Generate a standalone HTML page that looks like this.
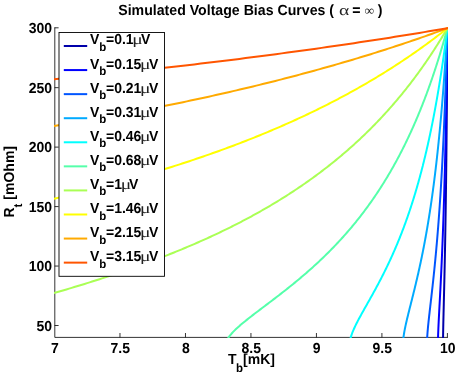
<!DOCTYPE html>
<html><head><meta charset="utf-8"><title>Simulated Voltage Bias Curves</title>
<style>
html,body{margin:0;padding:0;background:#fff;}
body{width:457px;height:375px;overflow:hidden;font-family:"Liberation Sans",sans-serif;}
svg{display:block;}
text{font-family:"Liberation Sans",sans-serif;font-weight:bold;fill:#000;text-rendering:geometricPrecision;}
.sym{font-family:"Liberation Serif",serif;font-weight:normal;fill:#222;}
.txt{filter:grayscale(1);}
</style></head><body>
<svg width="457" height="375" viewBox="0 0 457 375">
<rect width="457" height="375" fill="#fff"/>
<defs><clipPath id="c"><rect x="54" y="26" width="394" height="311.9"/></clipPath></defs>

<g stroke="#000" stroke-width="0.8" fill="none">
<path d="M54.8,27.4 V337.4 H447.9"/>
<path d="M119.98,337.4 v-4.4"/>
<path d="M185.47,337.4 v-4.4"/>
<path d="M250.95,337.4 v-4.4"/>
<path d="M316.43,337.4 v-4.4"/>
<path d="M381.92,337.4 v-4.4"/>
<path d="M447.40,337.4 v-4.4"/>
<path d="M54.6,325.51 h4"/>
<path d="M54.6,266.05 h4"/>
<path d="M54.6,206.58 h4"/>
<path d="M54.6,147.12 h4"/>
<path d="M54.6,87.66 h4"/>
<path d="M54.6,27.80 h4"/>
</g>
<g clip-path="url(#c)" fill="none" stroke-width="2.0" stroke-linejoin="round">
<path d="M443.03,342.16 L443.03,341.37 L443.04,340.58 L443.05,339.80 L443.05,339.01 L443.06,338.22 L443.07,337.44 L443.08,336.65 L443.09,335.86 L443.10,335.08 L443.12,334.29 L443.13,333.50 L443.14,332.71 L443.15,331.93 L443.17,331.14 L443.18,330.35 L443.20,329.57 L443.21,328.78 L443.23,327.99 L443.24,327.21 L443.26,326.42 L443.28,325.63 L443.29,324.85 L443.31,324.06 L443.33,323.27 L443.34,322.49 L443.36,321.70 L443.38,320.91 L443.40,320.12 L443.41,319.34 L443.43,318.55 L443.45,317.76 L443.47,316.98 L443.49,316.19 L443.51,315.40 L443.53,314.62 L443.54,313.83 L443.56,313.04 L443.58,312.26 L443.60,311.47 L443.62,310.68 L443.64,309.90 L443.66,309.11 L443.68,308.32 L443.70,307.54 L443.72,306.75 L443.74,305.96 L443.76,305.17 L443.78,304.39 L443.79,303.60 L443.81,302.81 L443.83,302.03 L443.85,301.24 L443.87,300.45 L443.89,299.67 L443.91,298.88 L443.93,298.09 L443.95,297.31 L443.97,296.52 L443.99,295.73 L444.01,294.95 L444.03,294.16 L444.05,293.37 L444.06,292.58 L444.08,291.80 L444.10,291.01 L444.12,290.22 L444.14,289.44 L444.16,288.65 L444.18,287.86 L444.20,287.08 L444.22,286.29 L444.23,285.50 L444.25,284.72 L444.27,283.93 L444.29,283.14 L444.31,282.36 L444.33,281.57 L444.34,280.78 L444.36,280.00 L444.38,279.21 L444.40,278.42 L444.42,277.63 L444.43,276.85 L444.45,276.06 L444.47,275.27 L444.49,274.49 L444.50,273.70 L444.52,272.91 L444.54,272.13 L444.56,271.34 L444.57,270.55 L444.59,269.77 L444.61,268.98 L444.62,268.19 L444.64,267.41 L444.66,266.62 L444.68,265.83 L444.69,265.04 L444.71,264.26 L444.73,263.47 L444.74,262.68 L444.76,261.90 L444.77,261.11 L444.79,260.32 L444.81,259.54 L444.82,258.75 L444.84,257.96 L444.86,257.18 L444.87,256.39 L444.89,255.60 L444.90,254.82 L444.92,254.03 L444.93,253.24 L444.95,252.45 L444.96,251.67 L444.98,250.88 L445.00,250.09 L445.01,249.31 L445.03,248.52 L445.04,247.73 L445.06,246.95 L445.07,246.16 L445.09,245.37 L445.10,244.59 L445.12,243.80 L445.13,243.01 L445.14,242.23 L445.16,241.44 L445.17,240.65 L445.19,239.87 L445.20,239.08 L445.22,238.29 L445.23,237.50 L445.24,236.72 L445.26,235.93 L445.27,235.14 L445.29,234.36 L445.30,233.57 L445.31,232.78 L445.33,232.00 L445.34,231.21 L445.35,230.42 L445.37,229.64 L445.38,228.85 L445.39,228.06 L445.41,227.28 L445.42,226.49 L445.43,225.70 L445.45,224.91 L445.46,224.13 L445.47,223.34 L445.49,222.55 L445.50,221.77 L445.51,220.98 L445.52,220.19 L445.54,219.41 L445.55,218.62 L445.56,217.83 L445.57,217.05 L445.59,216.26 L445.60,215.47 L445.61,214.69 L445.62,213.90 L445.64,213.11 L445.65,212.33 L445.66,211.54 L445.67,210.75 L445.68,209.96 L445.70,209.18 L445.71,208.39 L445.72,207.60 L445.73,206.82 L445.74,206.03 L445.75,205.24 L445.76,204.46 L445.78,203.67 L445.79,202.88 L445.80,202.10 L445.81,201.31 L445.82,200.52 L445.83,199.74 L445.84,198.95 L445.85,198.16 L445.87,197.37 L445.88,196.59 L445.89,195.80 L445.90,195.01 L445.91,194.23 L445.92,193.44 L445.93,192.65 L445.94,191.87 L445.95,191.08 L445.96,190.29 L445.97,189.51 L445.98,188.72 L445.99,187.93 L446.00,187.15 L446.01,186.36 L446.02,185.57 L446.03,184.79 L446.05,184.00 L446.06,183.21 L446.07,182.42 L446.08,181.64 L446.09,180.85 L446.10,180.06 L446.10,179.28 L446.11,178.49 L446.12,177.70 L446.13,176.92 L446.14,176.13 L446.15,175.34 L446.16,174.56 L446.17,173.77 L446.18,172.98 L446.19,172.20 L446.20,171.41 L446.21,170.62 L446.22,169.83 L446.23,169.05 L446.24,168.26 L446.25,167.47 L446.26,166.69 L446.27,165.90 L446.27,165.11 L446.28,164.33 L446.29,163.54 L446.30,162.75 L446.31,161.97 L446.32,161.18 L446.33,160.39 L446.34,159.61 L446.35,158.82 L446.35,158.03 L446.36,157.24 L446.37,156.46 L446.38,155.67 L446.39,154.88 L446.40,154.10 L446.41,153.31 L446.41,152.52 L446.42,151.74 L446.43,150.95 L446.44,150.16 L446.45,149.38 L446.46,148.59 L446.46,147.80 L446.47,147.02 L446.48,146.23 L446.49,145.44 L446.50,144.66 L446.51,143.87 L446.51,143.08 L446.52,142.29 L446.53,141.51 L446.54,140.72 L446.55,139.93 L446.55,139.15 L446.56,138.36 L446.57,137.57 L446.58,136.79 L446.58,136.00 L446.59,135.21 L446.60,134.43 L446.61,133.64 L446.61,132.85 L446.62,132.07 L446.63,131.28 L446.64,130.49 L446.64,129.70 L446.65,128.92 L446.66,128.13 L446.67,127.34 L446.67,126.56 L446.68,125.77 L446.69,124.98 L446.70,124.20 L446.70,123.41 L446.71,122.62 L446.72,121.84 L446.73,121.05 L446.73,120.26 L446.74,119.48 L446.75,118.69 L446.75,117.90 L446.76,117.12 L446.77,116.33 L446.77,115.54 L446.78,114.75 L446.79,113.97 L446.79,113.18 L446.80,112.39 L446.81,111.61 L446.82,110.82 L446.82,110.03 L446.83,109.25 L446.84,108.46 L446.84,107.67 L446.85,106.89 L446.86,106.10 L446.86,105.31 L446.87,104.53 L446.87,103.74 L446.88,102.95 L446.89,102.16 L446.89,101.38 L446.90,100.59 L446.91,99.80 L446.91,99.02 L446.92,98.23 L446.93,97.44 L446.93,96.66 L446.94,95.87 L446.95,95.08 L446.95,94.30 L446.96,93.51 L446.96,92.72 L446.97,91.94 L446.98,91.15 L446.98,90.36 L446.99,89.58 L446.99,88.79 L447.00,88.00 L447.01,87.21 L447.01,86.43 L447.02,85.64 L447.02,84.85 L447.03,84.07 L447.04,83.28 L447.04,82.49 L447.05,81.71 L447.05,80.92 L447.06,80.13 L447.07,79.35 L447.07,78.56 L447.08,77.77 L447.08,76.99 L447.09,76.20 L447.09,75.41 L447.10,74.62 L447.11,73.84 L447.11,73.05 L447.12,72.26 L447.12,71.48 L447.13,70.69 L447.13,69.90 L447.14,69.12 L447.14,68.33 L447.15,67.54 L447.15,66.76 L447.16,65.97 L447.17,65.18 L447.17,64.40 L447.18,63.61 L447.18,62.82 L447.19,62.03 L447.19,61.25 L447.20,60.46 L447.20,59.67 L447.21,58.89 L447.21,58.10 L447.22,57.31 L447.22,56.53 L447.23,55.74 L447.23,54.95 L447.24,54.17 L447.24,53.38 L447.25,52.59 L447.26,51.81 L447.26,51.02 L447.27,50.23 L447.27,49.45 L447.28,48.66 L447.28,47.87 L447.29,47.08 L447.29,46.30 L447.30,45.51 L447.30,44.72 L447.31,43.94 L447.31,43.15 L447.31,42.36 L447.32,41.58 L447.32,40.79 L447.33,40.00 L447.33,39.22 L447.34,38.43 L447.34,37.64 L447.35,36.86 L447.35,36.07 L447.36,35.28 L447.36,34.49 L447.37,33.71 L447.37,32.92 L447.38,32.13 L447.38,31.35 L447.39,30.56 L447.39,29.77 L447.40,28.99 L447.40,28.20" stroke="#0000aa"/>
<path d="M437.97,342.16 L437.98,341.37 L437.99,340.58 L438.00,339.80 L438.02,339.01 L438.04,338.22 L438.06,337.44 L438.08,336.65 L438.10,335.86 L438.13,335.08 L438.15,334.29 L438.18,333.50 L438.21,332.71 L438.24,331.93 L438.27,331.14 L438.30,330.35 L438.33,329.57 L438.36,328.78 L438.39,327.99 L438.43,327.21 L438.46,326.42 L438.50,325.63 L438.53,324.85 L438.57,324.06 L438.61,323.27 L438.64,322.49 L438.68,321.70 L438.72,320.91 L438.76,320.12 L438.80,319.34 L438.84,318.55 L438.88,317.76 L438.92,316.98 L438.96,316.19 L439.00,315.40 L439.04,314.62 L439.08,313.83 L439.12,313.04 L439.16,312.26 L439.20,311.47 L439.24,310.68 L439.29,309.90 L439.33,309.11 L439.37,308.32 L439.41,307.54 L439.45,306.75 L439.49,305.96 L439.54,305.17 L439.58,304.39 L439.62,303.60 L439.66,302.81 L439.70,302.03 L439.75,301.24 L439.79,300.45 L439.83,299.67 L439.87,298.88 L439.91,298.09 L439.96,297.31 L440.00,296.52 L440.04,295.73 L440.08,294.95 L440.12,294.16 L440.16,293.37 L440.20,292.58 L440.24,291.80 L440.29,291.01 L440.33,290.22 L440.37,289.44 L440.41,288.65 L440.45,287.86 L440.49,287.08 L440.53,286.29 L440.57,285.50 L440.61,284.72 L440.65,283.93 L440.69,283.14 L440.73,282.36 L440.77,281.57 L440.81,280.78 L440.85,280.00 L440.88,279.21 L440.92,278.42 L440.96,277.63 L441.00,276.85 L441.04,276.06 L441.08,275.27 L441.12,274.49 L441.15,273.70 L441.19,272.91 L441.23,272.13 L441.27,271.34 L441.30,270.55 L441.34,269.77 L441.38,268.98 L441.41,268.19 L441.45,267.41 L441.49,266.62 L441.52,265.83 L441.56,265.04 L441.60,264.26 L441.63,263.47 L441.67,262.68 L441.70,261.90 L441.74,261.11 L441.77,260.32 L441.81,259.54 L441.84,258.75 L441.88,257.96 L441.91,257.18 L441.95,256.39 L441.98,255.60 L442.01,254.82 L442.05,254.03 L442.08,253.24 L442.11,252.45 L442.15,251.67 L442.18,250.88 L442.21,250.09 L442.25,249.31 L442.28,248.52 L442.31,247.73 L442.34,246.95 L442.38,246.16 L442.41,245.37 L442.44,244.59 L442.47,243.80 L442.50,243.01 L442.54,242.23 L442.57,241.44 L442.60,240.65 L442.63,239.87 L442.66,239.08 L442.69,238.29 L442.72,237.50 L442.75,236.72 L442.78,235.93 L442.81,235.14 L442.84,234.36 L442.87,233.57 L442.90,232.78 L442.93,232.00 L442.96,231.21 L442.99,230.42 L443.02,229.64 L443.05,228.85 L443.08,228.06 L443.10,227.28 L443.13,226.49 L443.16,225.70 L443.19,224.91 L443.22,224.13 L443.25,223.34 L443.27,222.55 L443.30,221.77 L443.33,220.98 L443.36,220.19 L443.38,219.41 L443.41,218.62 L443.44,217.83 L443.46,217.05 L443.49,216.26 L443.52,215.47 L443.54,214.69 L443.57,213.90 L443.60,213.11 L443.62,212.33 L443.65,211.54 L443.67,210.75 L443.70,209.96 L443.72,209.18 L443.75,208.39 L443.77,207.60 L443.80,206.82 L443.83,206.03 L443.85,205.24 L443.87,204.46 L443.90,203.67 L443.92,202.88 L443.95,202.10 L443.97,201.31 L444.00,200.52 L444.02,199.74 L444.05,198.95 L444.07,198.16 L444.09,197.37 L444.12,196.59 L444.14,195.80 L444.16,195.01 L444.19,194.23 L444.21,193.44 L444.23,192.65 L444.26,191.87 L444.28,191.08 L444.30,190.29 L444.32,189.51 L444.35,188.72 L444.37,187.93 L444.39,187.15 L444.41,186.36 L444.44,185.57 L444.46,184.79 L444.48,184.00 L444.50,183.21 L444.52,182.42 L444.54,181.64 L444.57,180.85 L444.59,180.06 L444.61,179.28 L444.63,178.49 L444.65,177.70 L444.67,176.92 L444.69,176.13 L444.71,175.34 L444.73,174.56 L444.75,173.77 L444.78,172.98 L444.80,172.20 L444.82,171.41 L444.84,170.62 L444.86,169.83 L444.88,169.05 L444.90,168.26 L444.92,167.47 L444.94,166.69 L444.96,165.90 L444.98,165.11 L444.99,164.33 L445.01,163.54 L445.03,162.75 L445.05,161.97 L445.07,161.18 L445.09,160.39 L445.11,159.61 L445.13,158.82 L445.15,158.03 L445.17,157.24 L445.18,156.46 L445.20,155.67 L445.22,154.88 L445.24,154.10 L445.26,153.31 L445.28,152.52 L445.29,151.74 L445.31,150.95 L445.33,150.16 L445.35,149.38 L445.37,148.59 L445.38,147.80 L445.40,147.02 L445.42,146.23 L445.44,145.44 L445.45,144.66 L445.47,143.87 L445.49,143.08 L445.51,142.29 L445.52,141.51 L445.54,140.72 L445.56,139.93 L445.57,139.15 L445.59,138.36 L445.61,137.57 L445.63,136.79 L445.64,136.00 L445.66,135.21 L445.68,134.43 L445.69,133.64 L445.71,132.85 L445.72,132.07 L445.74,131.28 L445.76,130.49 L445.77,129.70 L445.79,128.92 L445.80,128.13 L445.82,127.34 L445.84,126.56 L445.85,125.77 L445.87,124.98 L445.88,124.20 L445.90,123.41 L445.91,122.62 L445.93,121.84 L445.95,121.05 L445.96,120.26 L445.98,119.48 L445.99,118.69 L446.01,117.90 L446.02,117.12 L446.04,116.33 L446.05,115.54 L446.07,114.75 L446.08,113.97 L446.10,113.18 L446.11,112.39 L446.13,111.61 L446.14,110.82 L446.15,110.03 L446.17,109.25 L446.18,108.46 L446.20,107.67 L446.21,106.89 L446.23,106.10 L446.24,105.31 L446.25,104.53 L446.27,103.74 L446.28,102.95 L446.30,102.16 L446.31,101.38 L446.32,100.59 L446.34,99.80 L446.35,99.02 L446.37,98.23 L446.38,97.44 L446.39,96.66 L446.41,95.87 L446.42,95.08 L446.43,94.30 L446.45,93.51 L446.46,92.72 L446.47,91.94 L446.49,91.15 L446.50,90.36 L446.51,89.58 L446.53,88.79 L446.54,88.00 L446.55,87.21 L446.56,86.43 L446.58,85.64 L446.59,84.85 L446.60,84.07 L446.62,83.28 L446.63,82.49 L446.64,81.71 L446.65,80.92 L446.67,80.13 L446.68,79.35 L446.69,78.56 L446.70,77.77 L446.72,76.99 L446.73,76.20 L446.74,75.41 L446.75,74.62 L446.76,73.84 L446.78,73.05 L446.79,72.26 L446.80,71.48 L446.81,70.69 L446.82,69.90 L446.84,69.12 L446.85,68.33 L446.86,67.54 L446.87,66.76 L446.88,65.97 L446.90,65.18 L446.91,64.40 L446.92,63.61 L446.93,62.82 L446.94,62.03 L446.95,61.25 L446.96,60.46 L446.98,59.67 L446.99,58.89 L447.00,58.10 L447.01,57.31 L447.02,56.53 L447.03,55.74 L447.04,54.95 L447.05,54.17 L447.07,53.38 L447.08,52.59 L447.09,51.81 L447.10,51.02 L447.11,50.23 L447.12,49.45 L447.13,48.66 L447.14,47.87 L447.15,47.08 L447.16,46.30 L447.17,45.51 L447.18,44.72 L447.20,43.94 L447.21,43.15 L447.22,42.36 L447.23,41.58 L447.24,40.79 L447.25,40.00 L447.26,39.22 L447.27,38.43 L447.28,37.64 L447.29,36.86 L447.30,36.07 L447.31,35.28 L447.32,34.49 L447.33,33.71 L447.34,32.92 L447.35,32.13 L447.36,31.35 L447.37,30.56 L447.38,29.77 L447.39,28.99 L447.40,28.20" stroke="#0000ff"/>
<path d="M426.99,342.16 L427.01,341.37 L427.04,340.58 L427.07,339.80 L427.11,339.01 L427.15,338.22 L427.19,337.44 L427.24,336.65 L427.29,335.86 L427.34,335.08 L427.40,334.29 L427.45,333.50 L427.51,332.71 L427.58,331.93 L427.64,331.14 L427.71,330.35 L427.78,329.57 L427.85,328.78 L427.92,327.99 L427.99,327.21 L428.07,326.42 L428.14,325.63 L428.22,324.85 L428.30,324.06 L428.38,323.27 L428.46,322.49 L428.54,321.70 L428.63,320.91 L428.71,320.12 L428.80,319.34 L428.88,318.55 L428.97,317.76 L429.06,316.98 L429.14,316.19 L429.23,315.40 L429.32,314.62 L429.41,313.83 L429.50,313.04 L429.59,312.26 L429.68,311.47 L429.77,310.68 L429.86,309.90 L429.95,309.11 L430.04,308.32 L430.13,307.54 L430.22,306.75 L430.31,305.96 L430.40,305.17 L430.49,304.39 L430.58,303.60 L430.67,302.81 L430.76,302.03 L430.85,301.24 L430.94,300.45 L431.04,299.67 L431.13,298.88 L431.22,298.09 L431.31,297.31 L431.40,296.52 L431.49,295.73 L431.58,294.95 L431.67,294.16 L431.76,293.37 L431.85,292.58 L431.93,291.80 L432.02,291.01 L432.11,290.22 L432.20,289.44 L432.29,288.65 L432.38,287.86 L432.46,287.08 L432.55,286.29 L432.64,285.50 L432.72,284.72 L432.81,283.93 L432.90,283.14 L432.98,282.36 L433.07,281.57 L433.15,280.78 L433.24,280.00 L433.32,279.21 L433.41,278.42 L433.49,277.63 L433.57,276.85 L433.66,276.06 L433.74,275.27 L433.82,274.49 L433.90,273.70 L433.99,272.91 L434.07,272.13 L434.15,271.34 L434.23,270.55 L434.31,269.77 L434.39,268.98 L434.47,268.19 L434.55,267.41 L434.63,266.62 L434.71,265.83 L434.78,265.04 L434.86,264.26 L434.94,263.47 L435.02,262.68 L435.09,261.90 L435.17,261.11 L435.25,260.32 L435.32,259.54 L435.40,258.75 L435.47,257.96 L435.55,257.18 L435.62,256.39 L435.69,255.60 L435.77,254.82 L435.84,254.03 L435.91,253.24 L435.99,252.45 L436.06,251.67 L436.13,250.88 L436.20,250.09 L436.27,249.31 L436.34,248.52 L436.41,247.73 L436.48,246.95 L436.55,246.16 L436.62,245.37 L436.69,244.59 L436.76,243.80 L436.83,243.01 L436.90,242.23 L436.97,241.44 L437.03,240.65 L437.10,239.87 L437.17,239.08 L437.23,238.29 L437.30,237.50 L437.36,236.72 L437.43,235.93 L437.49,235.14 L437.56,234.36 L437.62,233.57 L437.69,232.78 L437.75,232.00 L437.81,231.21 L437.88,230.42 L437.94,229.64 L438.00,228.85 L438.07,228.06 L438.13,227.28 L438.19,226.49 L438.25,225.70 L438.31,224.91 L438.37,224.13 L438.43,223.34 L438.49,222.55 L438.55,221.77 L438.61,220.98 L438.67,220.19 L438.73,219.41 L438.79,218.62 L438.85,217.83 L438.90,217.05 L438.96,216.26 L439.02,215.47 L439.08,214.69 L439.13,213.90 L439.19,213.11 L439.25,212.33 L439.30,211.54 L439.36,210.75 L439.41,209.96 L439.47,209.18 L439.52,208.39 L439.58,207.60 L439.63,206.82 L439.69,206.03 L439.74,205.24 L439.79,204.46 L439.85,203.67 L439.90,202.88 L439.95,202.10 L440.01,201.31 L440.06,200.52 L440.11,199.74 L440.16,198.95 L440.21,198.16 L440.26,197.37 L440.31,196.59 L440.37,195.80 L440.42,195.01 L440.47,194.23 L440.52,193.44 L440.57,192.65 L440.62,191.87 L440.67,191.08 L440.71,190.29 L440.76,189.51 L440.81,188.72 L440.86,187.93 L440.91,187.15 L440.96,186.36 L441.00,185.57 L441.05,184.79 L441.10,184.00 L441.15,183.21 L441.19,182.42 L441.24,181.64 L441.29,180.85 L441.33,180.06 L441.38,179.28 L441.42,178.49 L441.47,177.70 L441.51,176.92 L441.56,176.13 L441.60,175.34 L441.65,174.56 L441.69,173.77 L441.74,172.98 L441.78,172.20 L441.83,171.41 L441.87,170.62 L441.91,169.83 L441.96,169.05 L442.00,168.26 L442.04,167.47 L442.09,166.69 L442.13,165.90 L442.17,165.11 L442.21,164.33 L442.25,163.54 L442.30,162.75 L442.34,161.97 L442.38,161.18 L442.42,160.39 L442.46,159.61 L442.50,158.82 L442.54,158.03 L442.58,157.24 L442.62,156.46 L442.66,155.67 L442.70,154.88 L442.74,154.10 L442.78,153.31 L442.82,152.52 L442.86,151.74 L442.90,150.95 L442.94,150.16 L442.98,149.38 L443.02,148.59 L443.05,147.80 L443.09,147.02 L443.13,146.23 L443.17,145.44 L443.21,144.66 L443.24,143.87 L443.28,143.08 L443.32,142.29 L443.35,141.51 L443.39,140.72 L443.43,139.93 L443.46,139.15 L443.50,138.36 L443.54,137.57 L443.57,136.79 L443.61,136.00 L443.65,135.21 L443.68,134.43 L443.72,133.64 L443.75,132.85 L443.79,132.07 L443.82,131.28 L443.86,130.49 L443.89,129.70 L443.93,128.92 L443.96,128.13 L443.99,127.34 L444.03,126.56 L444.06,125.77 L444.10,124.98 L444.13,124.20 L444.16,123.41 L444.20,122.62 L444.23,121.84 L444.26,121.05 L444.30,120.26 L444.33,119.48 L444.36,118.69 L444.40,117.90 L444.43,117.12 L444.46,116.33 L444.49,115.54 L444.52,114.75 L444.56,113.97 L444.59,113.18 L444.62,112.39 L444.65,111.61 L444.68,110.82 L444.71,110.03 L444.75,109.25 L444.78,108.46 L444.81,107.67 L444.84,106.89 L444.87,106.10 L444.90,105.31 L444.93,104.53 L444.96,103.74 L444.99,102.95 L445.02,102.16 L445.05,101.38 L445.08,100.59 L445.11,99.80 L445.14,99.02 L445.17,98.23 L445.20,97.44 L445.23,96.66 L445.26,95.87 L445.29,95.08 L445.32,94.30 L445.34,93.51 L445.37,92.72 L445.40,91.94 L445.43,91.15 L445.46,90.36 L445.49,89.58 L445.52,88.79 L445.54,88.00 L445.57,87.21 L445.60,86.43 L445.63,85.64 L445.65,84.85 L445.68,84.07 L445.71,83.28 L445.74,82.49 L445.76,81.71 L445.79,80.92 L445.82,80.13 L445.85,79.35 L445.87,78.56 L445.90,77.77 L445.93,76.99 L445.95,76.20 L445.98,75.41 L446.00,74.62 L446.03,73.84 L446.06,73.05 L446.08,72.26 L446.11,71.48 L446.13,70.69 L446.16,69.90 L446.19,69.12 L446.21,68.33 L446.24,67.54 L446.26,66.76 L446.29,65.97 L446.31,65.18 L446.34,64.40 L446.36,63.61 L446.39,62.82 L446.41,62.03 L446.44,61.25 L446.46,60.46 L446.49,59.67 L446.51,58.89 L446.54,58.10 L446.56,57.31 L446.58,56.53 L446.61,55.74 L446.63,54.95 L446.66,54.17 L446.68,53.38 L446.70,52.59 L446.73,51.81 L446.75,51.02 L446.77,50.23 L446.80,49.45 L446.82,48.66 L446.84,47.87 L446.87,47.08 L446.89,46.30 L446.91,45.51 L446.94,44.72 L446.96,43.94 L446.98,43.15 L447.00,42.36 L447.03,41.58 L447.05,40.79 L447.07,40.00 L447.09,39.22 L447.12,38.43 L447.14,37.64 L447.16,36.86 L447.18,36.07 L447.21,35.28 L447.23,34.49 L447.25,33.71 L447.27,32.92 L447.29,32.13 L447.31,31.35 L447.34,30.56 L447.36,29.77 L447.38,28.99 L447.40,28.20" stroke="#0055ff"/>
<path d="M403.01,342.16 L403.07,341.37 L403.13,340.58 L403.20,339.80 L403.28,339.01 L403.37,338.22 L403.46,337.44 L403.56,336.65 L403.67,335.86 L403.79,335.08 L403.91,334.29 L404.03,333.50 L404.17,332.71 L404.30,331.93 L404.45,331.14 L404.59,330.35 L404.74,329.57 L404.90,328.78 L405.06,327.99 L405.22,327.21 L405.38,326.42 L405.55,325.63 L405.72,324.85 L405.90,324.06 L406.07,323.27 L406.25,322.49 L406.43,321.70 L406.61,320.91 L406.80,320.12 L406.98,319.34 L407.17,318.55 L407.36,317.76 L407.55,316.98 L407.74,316.19 L407.93,315.40 L408.12,314.62 L408.32,313.83 L408.51,313.04 L408.71,312.26 L408.91,311.47 L409.10,310.68 L409.30,309.90 L409.50,309.11 L409.70,308.32 L409.89,307.54 L410.09,306.75 L410.29,305.96 L410.49,305.17 L410.69,304.39 L410.89,303.60 L411.09,302.81 L411.29,302.03 L411.49,301.24 L411.68,300.45 L411.88,299.67 L412.08,298.88 L412.28,298.09 L412.48,297.31 L412.67,296.52 L412.87,295.73 L413.07,294.95 L413.26,294.16 L413.46,293.37 L413.65,292.58 L413.85,291.80 L414.04,291.01 L414.23,290.22 L414.43,289.44 L414.62,288.65 L414.81,287.86 L415.00,287.08 L415.19,286.29 L415.38,285.50 L415.57,284.72 L415.76,283.93 L415.95,283.14 L416.14,282.36 L416.32,281.57 L416.51,280.78 L416.69,280.00 L416.88,279.21 L417.06,278.42 L417.24,277.63 L417.43,276.85 L417.61,276.06 L417.79,275.27 L417.97,274.49 L418.15,273.70 L418.33,272.91 L418.50,272.13 L418.68,271.34 L418.86,270.55 L419.03,269.77 L419.20,268.98 L419.38,268.19 L419.55,267.41 L419.72,266.62 L419.89,265.83 L420.07,265.04 L420.23,264.26 L420.40,263.47 L420.57,262.68 L420.74,261.90 L420.91,261.11 L421.07,260.32 L421.24,259.54 L421.40,258.75 L421.56,257.96 L421.73,257.18 L421.89,256.39 L422.05,255.60 L422.21,254.82 L422.37,254.03 L422.53,253.24 L422.68,252.45 L422.84,251.67 L423.00,250.88 L423.15,250.09 L423.31,249.31 L423.46,248.52 L423.62,247.73 L423.77,246.95 L423.92,246.16 L424.07,245.37 L424.22,244.59 L424.37,243.80 L424.52,243.01 L424.67,242.23 L424.81,241.44 L424.96,240.65 L425.11,239.87 L425.25,239.08 L425.40,238.29 L425.54,237.50 L425.68,236.72 L425.82,235.93 L425.96,235.14 L426.11,234.36 L426.25,233.57 L426.38,232.78 L426.52,232.00 L426.66,231.21 L426.80,230.42 L426.93,229.64 L427.07,228.85 L427.21,228.06 L427.34,227.28 L427.47,226.49 L427.61,225.70 L427.74,224.91 L427.87,224.13 L428.00,223.34 L428.13,222.55 L428.26,221.77 L428.39,220.98 L428.52,220.19 L428.65,219.41 L428.77,218.62 L428.90,217.83 L429.03,217.05 L429.15,216.26 L429.28,215.47 L429.40,214.69 L429.52,213.90 L429.65,213.11 L429.77,212.33 L429.89,211.54 L430.01,210.75 L430.13,209.96 L430.25,209.18 L430.37,208.39 L430.49,207.60 L430.61,206.82 L430.72,206.03 L430.84,205.24 L430.96,204.46 L431.07,203.67 L431.19,202.88 L431.30,202.10 L431.42,201.31 L431.53,200.52 L431.64,199.74 L431.75,198.95 L431.87,198.16 L431.98,197.37 L432.09,196.59 L432.20,195.80 L432.31,195.01 L432.42,194.23 L432.52,193.44 L432.63,192.65 L432.74,191.87 L432.85,191.08 L432.95,190.29 L433.06,189.51 L433.16,188.72 L433.27,187.93 L433.37,187.15 L433.48,186.36 L433.58,185.57 L433.68,184.79 L433.79,184.00 L433.89,183.21 L433.99,182.42 L434.09,181.64 L434.19,180.85 L434.29,180.06 L434.39,179.28 L434.49,178.49 L434.59,177.70 L434.69,176.92 L434.78,176.13 L434.88,175.34 L434.98,174.56 L435.08,173.77 L435.17,172.98 L435.27,172.20 L435.36,171.41 L435.46,170.62 L435.55,169.83 L435.64,169.05 L435.74,168.26 L435.83,167.47 L435.92,166.69 L436.01,165.90 L436.11,165.11 L436.20,164.33 L436.29,163.54 L436.38,162.75 L436.47,161.97 L436.56,161.18 L436.65,160.39 L436.74,159.61 L436.82,158.82 L436.91,158.03 L437.00,157.24 L437.09,156.46 L437.17,155.67 L437.26,154.88 L437.34,154.10 L437.43,153.31 L437.52,152.52 L437.60,151.74 L437.68,150.95 L437.77,150.16 L437.85,149.38 L437.94,148.59 L438.02,147.80 L438.10,147.02 L438.18,146.23 L438.27,145.44 L438.35,144.66 L438.43,143.87 L438.51,143.08 L438.59,142.29 L438.67,141.51 L438.75,140.72 L438.83,139.93 L438.91,139.15 L438.99,138.36 L439.06,137.57 L439.14,136.79 L439.22,136.00 L439.30,135.21 L439.37,134.43 L439.45,133.64 L439.53,132.85 L439.60,132.07 L439.68,131.28 L439.75,130.49 L439.83,129.70 L439.90,128.92 L439.98,128.13 L440.05,127.34 L440.13,126.56 L440.20,125.77 L440.27,124.98 L440.35,124.20 L440.42,123.41 L440.49,122.62 L440.56,121.84 L440.63,121.05 L440.71,120.26 L440.78,119.48 L440.85,118.69 L440.92,117.90 L440.99,117.12 L441.06,116.33 L441.13,115.54 L441.20,114.75 L441.27,113.97 L441.34,113.18 L441.40,112.39 L441.47,111.61 L441.54,110.82 L441.61,110.03 L441.68,109.25 L441.74,108.46 L441.81,107.67 L441.88,106.89 L441.94,106.10 L442.01,105.31 L442.07,104.53 L442.14,103.74 L442.20,102.95 L442.27,102.16 L442.33,101.38 L442.40,100.59 L442.46,99.80 L442.53,99.02 L442.59,98.23 L442.65,97.44 L442.72,96.66 L442.78,95.87 L442.84,95.08 L442.91,94.30 L442.97,93.51 L443.03,92.72 L443.09,91.94 L443.15,91.15 L443.21,90.36 L443.28,89.58 L443.34,88.79 L443.40,88.00 L443.46,87.21 L443.52,86.43 L443.58,85.64 L443.64,84.85 L443.70,84.07 L443.76,83.28 L443.81,82.49 L443.87,81.71 L443.93,80.92 L443.99,80.13 L444.05,79.35 L444.11,78.56 L444.16,77.77 L444.22,76.99 L444.28,76.20 L444.33,75.41 L444.39,74.62 L444.45,73.84 L444.50,73.05 L444.56,72.26 L444.62,71.48 L444.67,70.69 L444.73,69.90 L444.78,69.12 L444.84,68.33 L444.89,67.54 L444.95,66.76 L445.00,65.97 L445.06,65.18 L445.11,64.40 L445.16,63.61 L445.22,62.82 L445.27,62.03 L445.32,61.25 L445.38,60.46 L445.43,59.67 L445.48,58.89 L445.54,58.10 L445.59,57.31 L445.64,56.53 L445.69,55.74 L445.74,54.95 L445.80,54.17 L445.85,53.38 L445.90,52.59 L445.95,51.81 L446.00,51.02 L446.05,50.23 L446.10,49.45 L446.15,48.66 L446.20,47.87 L446.25,47.08 L446.30,46.30 L446.35,45.51 L446.40,44.72 L446.45,43.94 L446.50,43.15 L446.55,42.36 L446.60,41.58 L446.65,40.79 L446.69,40.00 L446.74,39.22 L446.79,38.43 L446.84,37.64 L446.89,36.86 L446.93,36.07 L446.98,35.28 L447.03,34.49 L447.07,33.71 L447.12,32.92 L447.17,32.13 L447.22,31.35 L447.26,30.56 L447.31,29.77 L447.35,28.99 L447.40,28.20" stroke="#00aaff"/>
<path d="M349.75,342.16 L349.87,341.37 L350.01,340.58 L350.17,339.80 L350.35,339.01 L350.54,338.22 L350.76,337.44 L350.99,336.65 L351.23,335.86 L351.49,335.08 L351.76,334.29 L352.05,333.50 L352.34,332.71 L352.65,331.93 L352.97,331.14 L353.30,330.35 L353.64,329.57 L353.99,328.78 L354.34,327.99 L354.70,327.21 L355.07,326.42 L355.45,325.63 L355.83,324.85 L356.22,324.06 L356.62,323.27 L357.02,322.49 L357.42,321.70 L357.83,320.91 L358.24,320.12 L358.66,319.34 L359.08,318.55 L359.50,317.76 L359.93,316.98 L360.35,316.19 L360.78,315.40 L361.22,314.62 L361.65,313.83 L362.09,313.04 L362.52,312.26 L362.96,311.47 L363.40,310.68 L363.85,309.90 L364.29,309.11 L364.73,308.32 L365.17,307.54 L365.62,306.75 L366.06,305.96 L366.50,305.17 L366.95,304.39 L367.39,303.60 L367.84,302.81 L368.28,302.03 L368.72,301.24 L369.17,300.45 L369.61,299.67 L370.05,298.88 L370.49,298.09 L370.93,297.31 L371.37,296.52 L371.81,295.73 L372.24,294.95 L372.68,294.16 L373.11,293.37 L373.55,292.58 L373.98,291.80 L374.41,291.01 L374.84,290.22 L375.27,289.44 L375.70,288.65 L376.12,287.86 L376.55,287.08 L376.97,286.29 L377.39,285.50 L377.81,284.72 L378.23,283.93 L378.65,283.14 L379.06,282.36 L379.48,281.57 L379.89,280.78 L380.30,280.00 L380.71,279.21 L381.12,278.42 L381.52,277.63 L381.93,276.85 L382.33,276.06 L382.73,275.27 L383.13,274.49 L383.52,273.70 L383.92,272.91 L384.31,272.13 L384.70,271.34 L385.09,270.55 L385.48,269.77 L385.86,268.98 L386.25,268.19 L386.63,267.41 L387.01,266.62 L387.39,265.83 L387.77,265.04 L388.14,264.26 L388.51,263.47 L388.89,262.68 L389.25,261.90 L389.62,261.11 L389.99,260.32 L390.35,259.54 L390.71,258.75 L391.08,257.96 L391.43,257.18 L391.79,256.39 L392.15,255.60 L392.50,254.82 L392.85,254.03 L393.20,253.24 L393.55,252.45 L393.89,251.67 L394.24,250.88 L394.58,250.09 L394.92,249.31 L395.26,248.52 L395.60,247.73 L395.93,246.95 L396.27,246.16 L396.60,245.37 L396.93,244.59 L397.26,243.80 L397.59,243.01 L397.91,242.23 L398.24,241.44 L398.56,240.65 L398.88,239.87 L399.20,239.08 L399.51,238.29 L399.83,237.50 L400.14,236.72 L400.46,235.93 L400.77,235.14 L401.08,234.36 L401.38,233.57 L401.69,232.78 L401.99,232.00 L402.30,231.21 L402.60,230.42 L402.90,229.64 L403.19,228.85 L403.49,228.06 L403.79,227.28 L404.08,226.49 L404.37,225.70 L404.66,224.91 L404.95,224.13 L405.24,223.34 L405.52,222.55 L405.81,221.77 L406.09,220.98 L406.37,220.19 L406.65,219.41 L406.93,218.62 L407.21,217.83 L407.48,217.05 L407.76,216.26 L408.03,215.47 L408.30,214.69 L408.57,213.90 L408.84,213.11 L409.11,212.33 L409.37,211.54 L409.64,210.75 L409.90,209.96 L410.16,209.18 L410.43,208.39 L410.69,207.60 L410.94,206.82 L411.20,206.03 L411.46,205.24 L411.71,204.46 L411.96,203.67 L412.21,202.88 L412.46,202.10 L412.71,201.31 L412.96,200.52 L413.21,199.74 L413.45,198.95 L413.70,198.16 L413.94,197.37 L414.18,196.59 L414.42,195.80 L414.66,195.01 L414.90,194.23 L415.14,193.44 L415.37,192.65 L415.61,191.87 L415.84,191.08 L416.07,190.29 L416.30,189.51 L416.53,188.72 L416.76,187.93 L416.99,187.15 L417.22,186.36 L417.44,185.57 L417.67,184.79 L417.89,184.00 L418.11,183.21 L418.34,182.42 L418.56,181.64 L418.77,180.85 L418.99,180.06 L419.21,179.28 L419.43,178.49 L419.64,177.70 L419.85,176.92 L420.07,176.13 L420.28,175.34 L420.49,174.56 L420.70,173.77 L420.91,172.98 L421.12,172.20 L421.32,171.41 L421.53,170.62 L421.73,169.83 L421.94,169.05 L422.14,168.26 L422.34,167.47 L422.54,166.69 L422.75,165.90 L422.94,165.11 L423.14,164.33 L423.34,163.54 L423.54,162.75 L423.73,161.97 L423.93,161.18 L424.12,160.39 L424.31,159.61 L424.51,158.82 L424.70,158.03 L424.89,157.24 L425.08,156.46 L425.27,155.67 L425.45,154.88 L425.64,154.10 L425.83,153.31 L426.01,152.52 L426.19,151.74 L426.38,150.95 L426.56,150.16 L426.74,149.38 L426.92,148.59 L427.10,147.80 L427.28,147.02 L427.46,146.23 L427.64,145.44 L427.82,144.66 L427.99,143.87 L428.17,143.08 L428.34,142.29 L428.52,141.51 L428.69,140.72 L428.86,139.93 L429.03,139.15 L429.20,138.36 L429.37,137.57 L429.54,136.79 L429.71,136.00 L429.88,135.21 L430.05,134.43 L430.21,133.64 L430.38,132.85 L430.54,132.07 L430.71,131.28 L430.87,130.49 L431.04,129.70 L431.20,128.92 L431.36,128.13 L431.52,127.34 L431.68,126.56 L431.84,125.77 L432.00,124.98 L432.16,124.20 L432.31,123.41 L432.47,122.62 L432.63,121.84 L432.78,121.05 L432.94,120.26 L433.09,119.48 L433.24,118.69 L433.40,117.90 L433.55,117.12 L433.70,116.33 L433.85,115.54 L434.00,114.75 L434.15,113.97 L434.30,113.18 L434.45,112.39 L434.60,111.61 L434.74,110.82 L434.89,110.03 L435.03,109.25 L435.18,108.46 L435.33,107.67 L435.47,106.89 L435.61,106.10 L435.76,105.31 L435.90,104.53 L436.04,103.74 L436.18,102.95 L436.32,102.16 L436.46,101.38 L436.60,100.59 L436.74,99.80 L436.88,99.02 L437.02,98.23 L437.15,97.44 L437.29,96.66 L437.43,95.87 L437.56,95.08 L437.70,94.30 L437.83,93.51 L437.97,92.72 L438.10,91.94 L438.23,91.15 L438.37,90.36 L438.50,89.58 L438.63,88.79 L438.76,88.00 L438.89,87.21 L439.02,86.43 L439.15,85.64 L439.28,84.85 L439.41,84.07 L439.54,83.28 L439.66,82.49 L439.79,81.71 L439.92,80.92 L440.04,80.13 L440.17,79.35 L440.29,78.56 L440.42,77.77 L440.54,76.99 L440.66,76.20 L440.79,75.41 L440.91,74.62 L441.03,73.84 L441.15,73.05 L441.28,72.26 L441.40,71.48 L441.52,70.69 L441.64,69.90 L441.76,69.12 L441.87,68.33 L441.99,67.54 L442.11,66.76 L442.23,65.97 L442.35,65.18 L442.46,64.40 L442.58,63.61 L442.69,62.82 L442.81,62.03 L442.93,61.25 L443.04,60.46 L443.15,59.67 L443.27,58.89 L443.38,58.10 L443.49,57.31 L443.61,56.53 L443.72,55.74 L443.83,54.95 L443.94,54.17 L444.05,53.38 L444.16,52.59 L444.27,51.81 L444.38,51.02 L444.49,50.23 L444.60,49.45 L444.71,48.66 L444.82,47.87 L444.93,47.08 L445.03,46.30 L445.14,45.51 L445.25,44.72 L445.35,43.94 L445.46,43.15 L445.56,42.36 L445.67,41.58 L445.77,40.79 L445.88,40.00 L445.98,39.22 L446.09,38.43 L446.19,37.64 L446.29,36.86 L446.39,36.07 L446.50,35.28 L446.60,34.49 L446.70,33.71 L446.80,32.92 L446.90,32.13 L447.00,31.35 L447.10,30.56 L447.20,29.77 L447.30,28.99 L447.40,28.20" stroke="#00ffff"/>
<path d="M226.19,342.16 L226.47,341.37 L226.80,340.58 L227.18,339.80 L227.61,339.01 L228.08,338.22 L228.59,337.44 L229.14,336.65 L229.73,335.86 L230.35,335.08 L231.00,334.29 L231.68,333.50 L232.39,332.71 L233.13,331.93 L233.89,331.14 L234.68,330.35 L235.49,329.57 L236.31,328.78 L237.16,327.99 L238.03,327.21 L238.91,326.42 L239.80,325.63 L240.72,324.85 L241.64,324.06 L242.58,323.27 L243.53,322.49 L244.49,321.70 L245.46,320.91 L246.43,320.12 L247.42,319.34 L248.41,318.55 L249.42,317.76 L250.42,316.98 L251.43,316.19 L252.45,315.40 L253.47,314.62 L254.50,313.83 L255.53,313.04 L256.56,312.26 L257.60,311.47 L258.64,310.68 L259.67,309.90 L260.71,309.11 L261.76,308.32 L262.80,307.54 L263.84,306.75 L264.88,305.96 L265.93,305.17 L266.97,304.39 L268.01,303.60 L269.05,302.81 L270.09,302.03 L271.12,301.24 L272.16,300.45 L273.19,299.67 L274.22,298.88 L275.25,298.09 L276.28,297.31 L277.30,296.52 L278.32,295.73 L279.34,294.95 L280.36,294.16 L281.37,293.37 L282.38,292.58 L283.39,291.80 L284.39,291.01 L285.39,290.22 L286.38,289.44 L287.38,288.65 L288.36,287.86 L289.35,287.08 L290.33,286.29 L291.30,285.50 L292.28,284.72 L293.24,283.93 L294.21,283.14 L295.17,282.36 L296.12,281.57 L297.08,280.78 L298.02,280.00 L298.97,279.21 L299.90,278.42 L300.84,277.63 L301.77,276.85 L302.69,276.06 L303.61,275.27 L304.53,274.49 L305.44,273.70 L306.35,272.91 L307.25,272.13 L308.15,271.34 L309.04,270.55 L309.93,269.77 L310.82,268.98 L311.70,268.19 L312.57,267.41 L313.44,266.62 L314.31,265.83 L315.17,265.04 L316.03,264.26 L316.88,263.47 L317.73,262.68 L318.57,261.90 L319.41,261.11 L320.25,260.32 L321.08,259.54 L321.91,258.75 L322.73,257.96 L323.54,257.18 L324.36,256.39 L325.16,255.60 L325.97,254.82 L326.77,254.03 L327.56,253.24 L328.35,252.45 L329.14,251.67 L329.92,250.88 L330.70,250.09 L331.47,249.31 L332.24,248.52 L333.01,247.73 L333.77,246.95 L334.53,246.16 L335.28,245.37 L336.03,244.59 L336.77,243.80 L337.51,243.01 L338.25,242.23 L338.98,241.44 L339.71,240.65 L340.43,239.87 L341.15,239.08 L341.87,238.29 L342.58,237.50 L343.29,236.72 L343.99,235.93 L344.69,235.14 L345.39,234.36 L346.08,233.57 L346.77,232.78 L347.46,232.00 L348.14,231.21 L348.82,230.42 L349.49,229.64 L350.16,228.85 L350.83,228.06 L351.49,227.28 L352.15,226.49 L352.80,225.70 L353.46,224.91 L354.10,224.13 L354.75,223.34 L355.39,222.55 L356.03,221.77 L356.66,220.98 L357.29,220.19 L357.92,219.41 L358.54,218.62 L359.17,217.83 L359.78,217.05 L360.40,216.26 L361.01,215.47 L361.62,214.69 L362.22,213.90 L362.82,213.11 L363.42,212.33 L364.01,211.54 L364.60,210.75 L365.19,209.96 L365.78,209.18 L366.36,208.39 L366.94,207.60 L367.51,206.82 L368.09,206.03 L368.65,205.24 L369.22,204.46 L369.78,203.67 L370.35,202.88 L370.90,202.10 L371.46,201.31 L372.01,200.52 L372.56,199.74 L373.10,198.95 L373.65,198.16 L374.19,197.37 L374.73,196.59 L375.26,195.80 L375.79,195.01 L376.32,194.23 L376.85,193.44 L377.37,192.65 L377.89,191.87 L378.41,191.08 L378.93,190.29 L379.44,189.51 L379.95,188.72 L380.46,187.93 L380.96,187.15 L381.46,186.36 L381.96,185.57 L382.46,184.79 L382.96,184.00 L383.45,183.21 L383.94,182.42 L384.43,181.64 L384.91,180.85 L385.39,180.06 L385.87,179.28 L386.35,178.49 L386.83,177.70 L387.30,176.92 L387.77,176.13 L388.24,175.34 L388.70,174.56 L389.17,173.77 L389.63,172.98 L390.09,172.20 L390.55,171.41 L391.00,170.62 L391.45,169.83 L391.90,169.05 L392.35,168.26 L392.80,167.47 L393.24,166.69 L393.68,165.90 L394.12,165.11 L394.56,164.33 L394.99,163.54 L395.43,162.75 L395.86,161.97 L396.28,161.18 L396.71,160.39 L397.14,159.61 L397.56,158.82 L397.98,158.03 L398.40,157.24 L398.81,156.46 L399.23,155.67 L399.64,154.88 L400.05,154.10 L400.46,153.31 L400.87,152.52 L401.27,151.74 L401.68,150.95 L402.08,150.16 L402.48,149.38 L402.87,148.59 L403.27,147.80 L403.66,147.02 L404.05,146.23 L404.44,145.44 L404.83,144.66 L405.22,143.87 L405.60,143.08 L405.99,142.29 L406.37,141.51 L406.75,140.72 L407.12,139.93 L407.50,139.15 L407.87,138.36 L408.25,137.57 L408.62,136.79 L408.99,136.00 L409.35,135.21 L409.72,134.43 L410.08,133.64 L410.45,132.85 L410.81,132.07 L411.17,131.28 L411.53,130.49 L411.88,129.70 L412.24,128.92 L412.59,128.13 L412.94,127.34 L413.29,126.56 L413.64,125.77 L413.99,124.98 L414.33,124.20 L414.67,123.41 L415.02,122.62 L415.36,121.84 L415.70,121.05 L416.03,120.26 L416.37,119.48 L416.70,118.69 L417.04,117.90 L417.37,117.12 L417.70,116.33 L418.03,115.54 L418.36,114.75 L418.68,113.97 L419.01,113.18 L419.33,112.39 L419.65,111.61 L419.97,110.82 L420.29,110.03 L420.61,109.25 L420.93,108.46 L421.24,107.67 L421.56,106.89 L421.87,106.10 L422.18,105.31 L422.49,104.53 L422.80,103.74 L423.11,102.95 L423.41,102.16 L423.72,101.38 L424.02,100.59 L424.33,99.80 L424.63,99.02 L424.93,98.23 L425.22,97.44 L425.52,96.66 L425.82,95.87 L426.11,95.08 L426.41,94.30 L426.70,93.51 L426.99,92.72 L427.28,91.94 L427.57,91.15 L427.86,90.36 L428.14,89.58 L428.43,88.79 L428.71,88.00 L429.00,87.21 L429.28,86.43 L429.56,85.64 L429.84,84.85 L430.12,84.07 L430.40,83.28 L430.67,82.49 L430.95,81.71 L431.22,80.92 L431.50,80.13 L431.77,79.35 L432.04,78.56 L432.31,77.77 L432.58,76.99 L432.85,76.20 L433.11,75.41 L433.38,74.62 L433.64,73.84 L433.91,73.05 L434.17,72.26 L434.43,71.48 L434.69,70.69 L434.95,69.90 L435.21,69.12 L435.47,68.33 L435.72,67.54 L435.98,66.76 L436.23,65.97 L436.49,65.18 L436.74,64.40 L436.99,63.61 L437.24,62.82 L437.49,62.03 L437.74,61.25 L437.99,60.46 L438.24,59.67 L438.48,58.89 L438.73,58.10 L438.97,57.31 L439.21,56.53 L439.46,55.74 L439.70,54.95 L439.94,54.17 L440.18,53.38 L440.42,52.59 L440.65,51.81 L440.89,51.02 L441.13,50.23 L441.36,49.45 L441.60,48.66 L441.83,47.87 L442.06,47.08 L442.30,46.30 L442.53,45.51 L442.76,44.72 L442.99,43.94 L443.21,43.15 L443.44,42.36 L443.67,41.58 L443.89,40.79 L444.12,40.00 L444.34,39.22 L444.57,38.43 L444.79,37.64 L445.01,36.86 L445.23,36.07 L445.45,35.28 L445.67,34.49 L445.89,33.71 L446.11,32.92 L446.33,32.13 L446.54,31.35 L446.76,30.56 L446.97,29.77 L447.19,28.99 L447.40,28.20" stroke="#55ffaa"/>
<path d="M-33.27,316.98 L-30.34,316.19 L-27.41,315.40 L-24.48,314.62 L-21.54,313.83 L-18.59,313.04 L-15.65,312.26 L-12.71,311.47 L-9.76,310.68 L-6.82,309.90 L-3.89,309.11 L-0.96,308.32 L1.97,307.54 L4.89,306.75 L7.80,305.96 L10.71,305.17 L13.60,304.39 L16.49,303.60 L19.37,302.81 L22.24,302.03 L25.09,301.24 L27.94,300.45 L30.77,299.67 L33.60,298.88 L36.41,298.09 L39.20,297.31 L41.99,296.52 L44.76,295.73 L47.51,294.95 L50.26,294.16 L52.98,293.37 L55.70,292.58 L58.40,291.80 L61.08,291.01 L63.75,290.22 L66.41,289.44 L69.05,288.65 L71.67,287.86 L74.28,287.08 L76.88,286.29 L79.46,285.50 L82.02,284.72 L84.57,283.93 L87.10,283.14 L89.62,282.36 L92.12,281.57 L94.61,280.78 L97.08,280.00 L99.53,279.21 L101.97,278.42 L104.39,277.63 L106.80,276.85 L109.19,276.06 L111.57,275.27 L113.93,274.49 L116.28,273.70 L118.61,272.91 L120.92,272.13 L123.22,271.34 L125.51,270.55 L127.78,269.77 L130.03,268.98 L132.27,268.19 L134.50,267.41 L136.71,266.62 L138.90,265.83 L141.08,265.04 L143.25,264.26 L145.40,263.47 L147.54,262.68 L149.66,261.90 L151.77,261.11 L153.86,260.32 L155.94,259.54 L158.01,258.75 L160.06,257.96 L162.10,257.18 L164.13,256.39 L166.14,255.60 L168.14,254.82 L170.12,254.03 L172.10,253.24 L174.06,252.45 L176.00,251.67 L177.93,250.88 L179.85,250.09 L181.76,249.31 L183.65,248.52 L185.54,247.73 L187.40,246.95 L189.26,246.16 L191.11,245.37 L192.94,244.59 L194.76,243.80 L196.57,243.01 L198.36,242.23 L200.15,241.44 L201.92,240.65 L203.68,239.87 L205.43,239.08 L207.17,238.29 L208.89,237.50 L210.61,236.72 L212.31,235.93 L214.01,235.14 L215.69,234.36 L217.36,233.57 L219.02,232.78 L220.67,232.00 L222.31,231.21 L223.94,230.42 L225.55,229.64 L227.16,228.85 L228.76,228.06 L230.35,227.28 L231.92,226.49 L233.49,225.70 L235.05,224.91 L236.59,224.13 L238.13,223.34 L239.66,222.55 L241.18,221.77 L242.68,220.98 L244.18,220.19 L245.67,219.41 L247.15,218.62 L248.62,217.83 L250.09,217.05 L251.54,216.26 L252.98,215.47 L254.42,214.69 L255.84,213.90 L257.26,213.11 L258.67,212.33 L260.07,211.54 L261.46,210.75 L262.84,209.96 L264.22,209.18 L265.58,208.39 L266.94,207.60 L268.29,206.82 L269.63,206.03 L270.96,205.24 L272.29,204.46 L273.61,203.67 L274.92,202.88 L276.22,202.10 L277.51,201.31 L278.80,200.52 L280.08,199.74 L281.35,198.95 L282.61,198.16 L283.87,197.37 L285.12,196.59 L286.36,195.80 L287.59,195.01 L288.82,194.23 L290.04,193.44 L291.25,192.65 L292.46,191.87 L293.66,191.08 L294.85,190.29 L296.03,189.51 L297.21,188.72 L298.38,187.93 L299.55,187.15 L300.71,186.36 L301.86,185.57 L303.00,184.79 L304.14,184.00 L305.27,183.21 L306.40,182.42 L307.52,181.64 L308.63,180.85 L309.74,180.06 L310.84,179.28 L311.93,178.49 L313.02,177.70 L314.11,176.92 L315.18,176.13 L316.25,175.34 L317.32,174.56 L318.38,173.77 L319.43,172.98 L320.48,172.20 L321.52,171.41 L322.56,170.62 L323.59,169.83 L324.61,169.05 L325.63,168.26 L326.64,167.47 L327.65,166.69 L328.66,165.90 L329.65,165.11 L330.65,164.33 L331.63,163.54 L332.62,162.75 L333.59,161.97 L334.56,161.18 L335.53,160.39 L336.49,159.61 L337.45,158.82 L338.40,158.03 L339.34,157.24 L340.29,156.46 L341.22,155.67 L342.15,154.88 L343.08,154.10 L344.00,153.31 L344.92,152.52 L345.83,151.74 L346.74,150.95 L347.64,150.16 L348.54,149.38 L349.44,148.59 L350.33,147.80 L351.21,147.02 L352.09,146.23 L352.97,145.44 L353.84,144.66 L354.71,143.87 L355.57,143.08 L356.43,142.29 L357.28,141.51 L358.13,140.72 L358.98,139.93 L359.82,139.15 L360.66,138.36 L361.49,137.57 L362.32,136.79 L363.15,136.00 L363.97,135.21 L364.78,134.43 L365.60,133.64 L366.41,132.85 L367.21,132.07 L368.01,131.28 L368.81,130.49 L369.60,129.70 L370.39,128.92 L371.18,128.13 L371.96,127.34 L372.74,126.56 L373.52,125.77 L374.29,124.98 L375.05,124.20 L375.82,123.41 L376.58,122.62 L377.34,121.84 L378.09,121.05 L378.84,120.26 L379.58,119.48 L380.33,118.69 L381.07,117.90 L381.80,117.12 L382.53,116.33 L383.26,115.54 L383.99,114.75 L384.71,113.97 L385.43,113.18 L386.14,112.39 L386.86,111.61 L387.57,110.82 L388.27,110.03 L388.97,109.25 L389.67,108.46 L390.37,107.67 L391.06,106.89 L391.75,106.10 L392.44,105.31 L393.12,104.53 L393.80,103.74 L394.48,102.95 L395.16,102.16 L395.83,101.38 L396.50,100.59 L397.16,99.80 L397.82,99.02 L398.48,98.23 L399.14,97.44 L399.79,96.66 L400.44,95.87 L401.09,95.08 L401.74,94.30 L402.38,93.51 L403.02,92.72 L403.66,91.94 L404.29,91.15 L404.92,90.36 L405.55,89.58 L406.18,88.79 L406.80,88.00 L407.42,87.21 L408.04,86.43 L408.65,85.64 L409.27,84.85 L409.88,84.07 L410.48,83.28 L411.09,82.49 L411.69,81.71 L412.29,80.92 L412.89,80.13 L413.48,79.35 L414.07,78.56 L414.66,77.77 L415.25,76.99 L415.84,76.20 L416.42,75.41 L417.00,74.62 L417.58,73.84 L418.15,73.05 L418.72,72.26 L419.29,71.48 L419.86,70.69 L420.43,69.90 L420.99,69.12 L421.55,68.33 L422.11,67.54 L422.67,66.76 L423.22,65.97 L423.77,65.18 L424.32,64.40 L424.87,63.61 L425.42,62.82 L425.96,62.03 L426.50,61.25 L427.04,60.46 L427.57,59.67 L428.11,58.89 L428.64,58.10 L429.17,57.31 L429.70,56.53 L430.23,55.74 L430.75,54.95 L431.27,54.17 L431.79,53.38 L432.31,52.59 L432.82,51.81 L433.34,51.02 L433.85,50.23 L434.36,49.45 L434.87,48.66 L435.37,47.87 L435.88,47.08 L436.38,46.30 L436.88,45.51 L437.37,44.72 L437.87,43.94 L438.36,43.15 L438.86,42.36 L439.35,41.58 L439.83,40.79 L440.32,40.00 L440.81,39.22 L441.29,38.43 L441.77,37.64 L442.25,36.86 L442.73,36.07 L443.20,35.28 L443.67,34.49 L444.15,33.71 L444.62,32.92 L445.08,32.13 L445.55,31.35 L446.02,30.56 L446.48,29.77 L446.94,28.99 L447.40,28.20 L447.80,27.51" stroke="#aaff55"/>
<path d="M-30.05,216.26 L-25.89,215.47 L-21.78,214.69 L-17.70,213.90 L-13.67,213.11 L-9.67,212.33 L-5.71,211.54 L-1.79,210.75 L2.09,209.96 L5.94,209.18 L9.75,208.39 L13.53,207.60 L17.27,206.82 L20.98,206.03 L24.66,205.24 L28.30,204.46 L31.91,203.67 L35.49,202.88 L39.04,202.10 L42.55,201.31 L46.04,200.52 L49.50,199.74 L52.92,198.95 L56.32,198.16 L59.69,197.37 L63.03,196.59 L66.34,195.80 L69.63,195.01 L72.88,194.23 L76.11,193.44 L79.32,192.65 L82.50,191.87 L85.65,191.08 L88.78,190.29 L91.88,189.51 L94.96,188.72 L98.01,187.93 L101.04,187.15 L104.05,186.36 L107.03,185.57 L109.99,184.79 L112.93,184.00 L115.84,183.21 L118.74,182.42 L121.61,181.64 L124.46,180.85 L127.28,180.06 L130.09,179.28 L132.88,178.49 L135.64,177.70 L138.39,176.92 L141.11,176.13 L143.81,175.34 L146.50,174.56 L149.16,173.77 L151.81,172.98 L154.44,172.20 L157.05,171.41 L159.64,170.62 L162.21,169.83 L164.76,169.05 L167.30,168.26 L169.82,167.47 L172.32,166.69 L174.80,165.90 L177.27,165.11 L179.72,164.33 L182.15,163.54 L184.57,162.75 L186.97,161.97 L189.35,161.18 L191.72,160.39 L194.07,159.61 L196.41,158.82 L198.73,158.03 L201.03,157.24 L203.32,156.46 L205.60,155.67 L207.86,154.88 L210.11,154.10 L212.34,153.31 L214.55,152.52 L216.76,151.74 L218.94,150.95 L221.12,150.16 L223.28,149.38 L225.43,148.59 L227.56,147.80 L229.68,147.02 L231.79,146.23 L233.88,145.44 L235.96,144.66 L238.03,143.87 L240.09,143.08 L242.13,142.29 L244.16,141.51 L246.18,140.72 L248.18,139.93 L250.17,139.15 L252.16,138.36 L254.12,137.57 L256.08,136.79 L258.03,136.00 L259.96,135.21 L261.88,134.43 L263.80,133.64 L265.70,132.85 L267.58,132.07 L269.46,131.28 L271.33,130.49 L273.19,129.70 L275.03,128.92 L276.87,128.13 L278.69,127.34 L280.50,126.56 L282.31,125.77 L284.10,124.98 L285.88,124.20 L287.66,123.41 L289.42,122.62 L291.17,121.84 L292.91,121.05 L294.65,120.26 L296.37,119.48 L298.08,118.69 L299.79,117.90 L301.48,117.12 L303.17,116.33 L304.85,115.54 L306.51,114.75 L308.17,113.97 L309.82,113.18 L311.46,112.39 L313.09,111.61 L314.71,110.82 L316.33,110.03 L317.93,109.25 L319.53,108.46 L321.12,107.67 L322.70,106.89 L324.27,106.10 L325.83,105.31 L327.39,104.53 L328.93,103.74 L330.47,102.95 L332.00,102.16 L333.53,101.38 L335.04,100.59 L336.55,99.80 L338.05,99.02 L339.54,98.23 L341.02,97.44 L342.50,96.66 L343.97,95.87 L345.43,95.08 L346.88,94.30 L348.33,93.51 L349.77,92.72 L351.20,91.94 L352.62,91.15 L354.04,90.36 L355.45,89.58 L356.86,88.79 L358.25,88.00 L359.64,87.21 L361.02,86.43 L362.40,85.64 L363.77,84.85 L365.13,84.07 L366.49,83.28 L367.84,82.49 L369.18,81.71 L370.52,80.92 L371.85,80.13 L373.17,79.35 L374.49,78.56 L375.80,77.77 L377.10,76.99 L378.40,76.20 L379.69,75.41 L380.98,74.62 L382.26,73.84 L383.53,73.05 L384.80,72.26 L386.06,71.48 L387.32,70.69 L388.57,69.90 L389.81,69.12 L391.05,68.33 L392.28,67.54 L393.51,66.76 L394.73,65.97 L395.95,65.18 L397.16,64.40 L398.36,63.61 L399.56,62.82 L400.75,62.03 L401.94,61.25 L403.12,60.46 L404.30,59.67 L405.47,58.89 L406.64,58.10 L407.80,57.31 L408.96,56.53 L410.11,55.74 L411.26,54.95 L412.40,54.17 L413.53,53.38 L414.66,52.59 L415.79,51.81 L416.91,51.02 L418.03,50.23 L419.14,49.45 L420.24,48.66 L421.35,47.87 L422.44,47.08 L423.53,46.30 L424.62,45.51 L425.70,44.72 L426.78,43.94 L427.85,43.15 L428.92,42.36 L429.99,41.58 L431.05,40.79 L432.10,40.00 L433.15,39.22 L434.20,38.43 L435.24,37.64 L436.28,36.86 L437.31,36.07 L438.34,35.28 L439.36,34.49 L440.38,33.71 L441.40,32.92 L442.41,32.13 L443.41,31.35 L444.42,30.56 L445.42,29.77 L446.41,28.99 L447.40,28.20 L448.03,27.70" stroke="#ffff00"/>
<path d="M-28.27,138.36 L-22.61,137.57 L-17.02,136.79 L-11.49,136.00 L-6.01,135.21 L-0.60,134.43 L4.76,133.64 L10.07,132.85 L15.32,132.07 L20.52,131.28 L25.66,130.49 L30.76,129.70 L35.80,128.92 L40.80,128.13 L45.75,127.34 L50.65,126.56 L55.50,125.77 L60.31,124.98 L65.07,124.20 L69.79,123.41 L74.47,122.62 L79.10,121.84 L83.70,121.05 L88.25,120.26 L92.76,119.48 L97.24,118.69 L101.67,117.90 L106.06,117.12 L110.42,116.33 L114.74,115.54 L119.03,114.75 L123.28,113.97 L127.49,113.18 L131.67,112.39 L135.81,111.61 L139.93,110.82 L144.00,110.03 L148.05,109.25 L152.06,108.46 L156.04,107.67 L159.99,106.89 L163.91,106.10 L167.80,105.31 L171.66,104.53 L175.49,103.74 L179.29,102.95 L183.06,102.16 L186.81,101.38 L190.52,100.59 L194.21,99.80 L197.87,99.02 L201.50,98.23 L205.11,97.44 L208.69,96.66 L212.25,95.87 L215.78,95.08 L219.28,94.30 L222.76,93.51 L226.22,92.72 L229.65,91.94 L233.06,91.15 L236.44,90.36 L239.81,89.58 L243.14,88.79 L246.46,88.00 L249.75,87.21 L253.02,86.43 L256.27,85.64 L259.50,84.85 L262.70,84.07 L265.89,83.28 L269.05,82.49 L272.19,81.71 L275.32,80.92 L278.42,80.13 L281.50,79.35 L284.56,78.56 L287.60,77.77 L290.63,76.99 L293.63,76.20 L296.62,75.41 L299.58,74.62 L302.53,73.84 L305.46,73.05 L308.37,72.26 L311.27,71.48 L314.14,70.69 L317.00,69.90 L319.84,69.12 L322.67,68.33 L325.47,67.54 L328.26,66.76 L331.04,65.97 L333.80,65.18 L336.54,64.40 L339.26,63.61 L341.97,62.82 L344.66,62.03 L347.34,61.25 L350.00,60.46 L352.65,59.67 L355.28,58.89 L357.89,58.10 L360.50,57.31 L363.08,56.53 L365.65,55.74 L368.21,54.95 L370.75,54.17 L373.28,53.38 L375.80,52.59 L378.30,51.81 L380.78,51.02 L383.26,50.23 L385.71,49.45 L388.16,48.66 L390.59,47.87 L393.01,47.08 L395.42,46.30 L397.81,45.51 L400.19,44.72 L402.56,43.94 L404.91,43.15 L407.26,42.36 L409.59,41.58 L411.90,40.79 L414.21,40.00 L416.50,39.22 L418.79,38.43 L421.05,37.64 L423.31,36.86 L425.56,36.07 L427.79,35.28 L430.02,34.49 L432.23,33.71 L434.43,32.92 L436.62,32.13 L438.80,31.35 L440.96,30.56 L443.12,29.77 L445.27,28.99 L447.40,28.20 L448.15,27.92" stroke="#ffaa00"/>
<path d="M-25.78,86.43 L-16.48,85.64 L-7.33,84.85 L1.70,84.07 L10.60,83.28 L19.38,82.49 L28.04,81.71 L36.58,80.92 L45.01,80.13 L53.33,79.35 L61.54,78.56 L69.66,77.77 L77.67,76.99 L85.59,76.20 L93.41,75.41 L101.14,74.62 L108.78,73.84 L116.33,73.05 L123.80,72.26 L131.18,71.48 L138.48,70.69 L145.70,69.90 L152.85,69.12 L159.92,68.33 L166.91,67.54 L173.83,66.76 L180.69,65.97 L187.47,65.18 L194.18,64.40 L200.83,63.61 L207.41,62.82 L213.93,62.03 L220.39,61.25 L226.78,60.46 L233.12,59.67 L239.39,58.89 L245.61,58.10 L251.77,57.31 L257.88,56.53 L263.93,55.74 L269.92,54.95 L275.87,54.17 L281.76,53.38 L287.60,52.59 L293.39,51.81 L299.13,51.02 L304.83,50.23 L310.47,49.45 L316.07,48.66 L321.63,47.87 L327.14,47.08 L332.60,46.30 L338.02,45.51 L343.40,44.72 L348.73,43.94 L354.02,43.15 L359.27,42.36 L364.49,41.58 L369.66,40.79 L374.79,40.00 L379.88,39.22 L384.94,38.43 L389.95,37.64 L394.93,36.86 L399.88,36.07 L404.78,35.28 L409.65,34.49 L414.49,33.71 L419.29,32.92 L424.06,32.13 L428.79,31.35 L433.49,30.56 L438.16,29.77 L442.80,28.99 L447.40,28.20 L448.19,28.07" stroke="#ff5500"/>
</g>
<g class="txt">
<text id="xt7" text-anchor="middle" transform="translate(54.8,353.2) scale(1,1.04)" font-size="14">7</text>
<text id="xt7_5" text-anchor="middle" transform="translate(120.3,353.2) scale(1,1.04)" font-size="14">7.5</text>
<text id="xt8" text-anchor="middle" transform="translate(185.8,353.2) scale(1,1.04)" font-size="14">8</text>
<text id="xt8_5" text-anchor="middle" transform="translate(251.2,353.2) scale(1,1.04)" font-size="14">8.5</text>
<text id="xt9" text-anchor="middle" transform="translate(316.7,353.2) scale(1,1.04)" font-size="14">9</text>
<text id="xt9_5" text-anchor="middle" transform="translate(382.2,353.2) scale(1,1.04)" font-size="14">9.5</text>
<text id="xt10" text-anchor="middle" transform="translate(447.7,353.2) scale(1,1.04)" font-size="14">10</text>
<text id="yt50" text-anchor="end" transform="translate(52,330.6) scale(1,1.04)" font-size="14">50</text>
<text id="yt100" text-anchor="end" transform="translate(52,271.1) scale(1,1.04)" font-size="14">100</text>
<text id="yt150" text-anchor="end" transform="translate(52,211.7) scale(1,1.04)" font-size="14">150</text>
<text id="yt200" text-anchor="end" transform="translate(52,152.2) scale(1,1.04)" font-size="14">200</text>
<text id="yt250" text-anchor="end" transform="translate(52,92.8) scale(1,1.04)" font-size="14">250</text>
<text id="yt300" text-anchor="end" transform="translate(52,33.3) scale(1,1.04)" font-size="14">300</text>
<text id="title" transform="translate(118.2,15.2) scale(1,1.04)" font-size="14.15">Simulated Voltage Bias Curves (</text>
<text class="sym" transform="translate(339.0,15.2) scale(1.4,1.05)" font-size="14">α</text>
<text transform="translate(352.3,15.2) scale(1,1.04)" font-size="14.15">=</text>
<text class="sym" transform="translate(364.5,14.6) scale(0.97,0.97)" font-size="14">∞</text>
<text transform="translate(377.8,15.2) scale(1,1.04)" font-size="14.15">)</text>
<text id="xlabel" transform="translate(227.9,363.9) scale(1,1.04)" font-size="14">T<tspan dy="7.3" dx="-0.4" font-size="11.5">b</tspan><tspan dy="-7.3">[mK]</tspan></text>
<text id="ylabel" transform="translate(14.4,217.5) rotate(-90) scale(1,1.04)" font-size="14">R<tspan dy="7.2" font-size="11.5">t</tspan><tspan dy="-7.2"> [mOhm]</tspan></text>
</g>
<rect x="59" y="32.5" width="105.5" height="243.8" fill="#fff" stroke="#000" stroke-width="0.9"/>
<path d="M63.8,46.00 H87.2" stroke="#0000aa" stroke-width="2.0" fill="none"/>
<path d="M63.8,70.07 H87.2" stroke="#0000ff" stroke-width="2.0" fill="none"/>
<path d="M63.8,94.14 H87.2" stroke="#0055ff" stroke-width="2.0" fill="none"/>
<path d="M63.8,118.21 H87.2" stroke="#00aaff" stroke-width="2.0" fill="none"/>
<path d="M63.8,142.28 H87.2" stroke="#00ffff" stroke-width="2.0" fill="none"/>
<path d="M63.8,166.35 H87.2" stroke="#55ffaa" stroke-width="2.0" fill="none"/>
<path d="M63.8,190.42 H87.2" stroke="#aaff55" stroke-width="2.0" fill="none"/>
<path d="M63.8,214.49 H87.2" stroke="#ffff00" stroke-width="2.0" fill="none"/>
<path d="M63.8,238.56 H87.2" stroke="#ffaa00" stroke-width="2.0" fill="none"/>
<path d="M63.8,262.63 H87.2" stroke="#ff5500" stroke-width="2.0" fill="none"/>
<g class="txt">
<text id="lg0" transform="translate(90,44.4) scale(1,1.04)" font-size="14">V<tspan dy="6.4" font-size="11.5">b</tspan><tspan dy="-6.4" dx="-0.4">=0.1</tspan><tspan class="sym" textLength="10.5" lengthAdjust="spacingAndGlyphs" dx="-1.35">μ</tspan><tspan dx="-1.65">V</tspan></text>
<text id="lg1" transform="translate(90,68.5) scale(1,1.04)" font-size="14">V<tspan dy="6.4" font-size="11.5">b</tspan><tspan dy="-6.4" dx="-0.4">=0.15</tspan><tspan class="sym" textLength="10.5" lengthAdjust="spacingAndGlyphs" dx="-1.35">μ</tspan><tspan dx="-1.65">V</tspan></text>
<text id="lg2" transform="translate(90,92.5) scale(1,1.04)" font-size="14">V<tspan dy="6.4" font-size="11.5">b</tspan><tspan dy="-6.4" dx="-0.4">=0.21</tspan><tspan class="sym" textLength="10.5" lengthAdjust="spacingAndGlyphs" dx="-1.35">μ</tspan><tspan dx="-1.65">V</tspan></text>
<text id="lg3" transform="translate(90,116.6) scale(1,1.04)" font-size="14">V<tspan dy="6.4" font-size="11.5">b</tspan><tspan dy="-6.4" dx="-0.4">=0.31</tspan><tspan class="sym" textLength="10.5" lengthAdjust="spacingAndGlyphs" dx="-1.35">μ</tspan><tspan dx="-1.65">V</tspan></text>
<text id="lg4" transform="translate(90,140.7) scale(1,1.04)" font-size="14">V<tspan dy="6.4" font-size="11.5">b</tspan><tspan dy="-6.4" dx="-0.4">=0.46</tspan><tspan class="sym" textLength="10.5" lengthAdjust="spacingAndGlyphs" dx="-1.35">μ</tspan><tspan dx="-1.65">V</tspan></text>
<text id="lg5" transform="translate(90,164.8) scale(1,1.04)" font-size="14">V<tspan dy="6.4" font-size="11.5">b</tspan><tspan dy="-6.4" dx="-0.4">=0.68</tspan><tspan class="sym" textLength="10.5" lengthAdjust="spacingAndGlyphs" dx="-1.35">μ</tspan><tspan dx="-1.65">V</tspan></text>
<text id="lg6" transform="translate(90,188.8) scale(1,1.04)" font-size="14">V<tspan dy="6.4" font-size="11.5">b</tspan><tspan dy="-6.4" dx="-0.4">=1</tspan><tspan class="sym" textLength="10.5" lengthAdjust="spacingAndGlyphs" dx="-1.1">μ</tspan><tspan dx="-2.3">V</tspan></text>
<text id="lg7" transform="translate(90,212.9) scale(1,1.04)" font-size="14">V<tspan dy="6.4" font-size="11.5">b</tspan><tspan dy="-6.4" dx="-0.4">=1.46</tspan><tspan class="sym" textLength="10.5" lengthAdjust="spacingAndGlyphs" dx="-1.35">μ</tspan><tspan dx="-1.65">V</tspan></text>
<text id="lg8" transform="translate(90,237.0) scale(1,1.04)" font-size="14">V<tspan dy="6.4" font-size="11.5">b</tspan><tspan dy="-6.4" dx="-0.4">=2.15</tspan><tspan class="sym" textLength="10.5" lengthAdjust="spacingAndGlyphs" dx="-1.35">μ</tspan><tspan dx="-1.65">V</tspan></text>
<text id="lg9" transform="translate(90,261.0) scale(1,1.04)" font-size="14">V<tspan dy="6.4" font-size="11.5">b</tspan><tspan dy="-6.4" dx="-0.4">=3.15</tspan><tspan class="sym" textLength="10.5" lengthAdjust="spacingAndGlyphs" dx="-1.35">μ</tspan><tspan dx="-1.65">V</tspan></text>
</g>
</svg></body></html>
